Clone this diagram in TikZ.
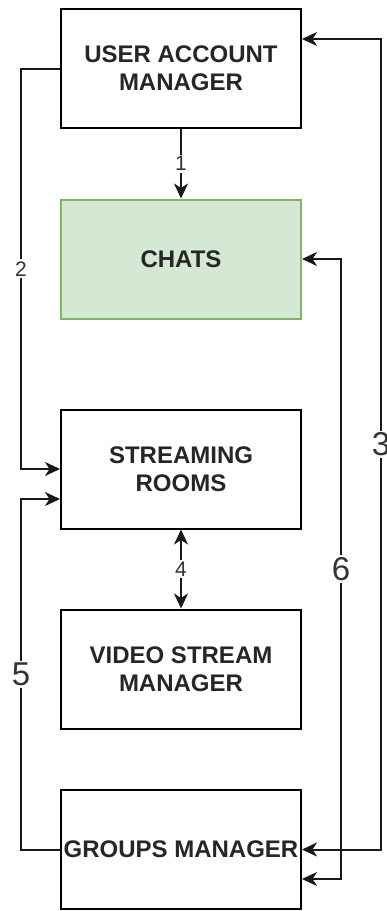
\documentclass[tikz,border=0pt]{standalone}
\usepackage{fontspec}
\setmainfont{Liberation Sans}
\usetikzlibrary{arrows.meta}
\definecolor{chatfill}{HTML}{D5E8D4}
\definecolor{chatline}{HTML}{82B366}
\begin{document}
\begin{tikzpicture}[x=1pt,y=-1pt,
  >={Stealth[length=15pt,width=14pt,inset=4.5pt]},
  box/.style={draw=black, line width=2pt, minimum width=240pt, minimum height=119pt,
    align=center, inner sep=0pt, text=black!85,
    font=\fontsize{24}{28}\selectfont\bfseries},
  conn/.style={line width=2pt, draw=black!90},
  slbl/.style={fill=white, inner sep=2pt, text=black!80, font=\fontsize{21}{21}\selectfont},
  blbl/.style={fill=white, inner sep=2pt, text=black!80, font=\fontsize{33}{33}\selectfont},
]
\useasboundingbox (0,0) rectangle (387,911);

\node[box] (uam) at (181,68.5) {USER ACCOUNT\\MANAGER};
\node[box, fill=chatfill, draw=chatline] (chats) at (181,259) {CHATS};
\node[box] (sr) at (181,469) {STREAMING\\ROOMS};
\node[box] (vsm) at (181,669) {VIDEO STREAM\\MANAGER};
\node[box] (gm) at (181,849.5) {GROUPS MANAGER};

% 1
\draw[conn, ->] (uam.south) -- node[slbl] {1} (chats.north);
% 4
\draw[conn, <->] (sr.south) -- node[slbl] {4} (vsm.north);

% 2
\coordinate (c2a) at (21,68.5);
\coordinate (c2b) at (21,469);
\draw[conn, ->] (uam.west) -- (c2a) -- node[slbl] {2} (c2b) -- (sr.west);

% 5
\coordinate (sr5) at ([yshift=-30pt]sr.west);
\coordinate (c5a) at (21,849.5);
\coordinate (c5b) at (21,499);
\draw[conn, ->] (gm.west) -- (c5a) -- node[blbl] {5} (c5b) -- (sr5);

% 3
\coordinate (uam3) at ([yshift=29.5pt]uam.east);
\coordinate (c3a) at (381,849.5);
\coordinate (c3b) at (381,39);
\draw[conn, <->] (gm.east) -- (c3a) -- node[blbl] {3} (c3b) -- (uam3);

% 6
\coordinate (gm6) at ([yshift=-29.5pt]gm.east);
\coordinate (c6a) at (341,259);
\coordinate (c6b) at (341,879);
\draw[conn, <->] (chats.east) -- (c6a) -- node[blbl] {6} (c6b) -- (gm6);
\end{tikzpicture}
\end{document}
